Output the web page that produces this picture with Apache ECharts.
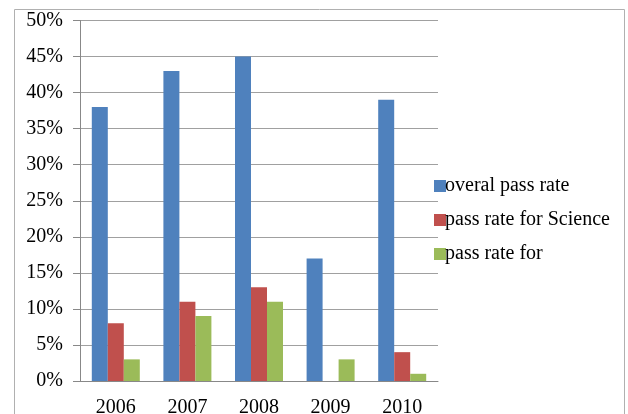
<!DOCTYPE html>
<html><head><meta charset="utf-8">
<script src="https://cdn.jsdelivr.net/npm/echarts@6/dist/echarts.min.js"></script>
<style>html,body{margin:0;padding:0;background:#fff}#c{width:628px;height:414px}</style>
</head><body><div id="c"></div>
<script>
const categories = ['2006','2007','2008','2009','2010'];
const overall = [38, 43, 45, 17, 39];
const science = [8, 11, 13, 0, 4];
const other = [3, 9, 11, 3, 1];
const seriesNames = ['overal pass rate','pass rate for Science','pass rate for'];
const font = 'Liberation Serif';
const chart = echarts.init(document.getElementById('c'));
chart.setOption({
  animation:false,
  graphic:[{type:'rect',shape:{x:14.5,y:9.5,width:610,height:420},style:{fill:'none',stroke:'#b0b0b0',lineWidth:1},silent:true}],
  grid:{left:80,right:190,top:20.5,bottom:33,containLabel:false,outerBoundsMode:'none'},
  legend:{orient:'vertical',left:429,top:171,itemWidth:12,itemHeight:12,itemGap:14,icon:'rect',
    textStyle:{fontFamily:font,fontSize:20,color:'#000',padding:[0,0,0,-6]}},
  xAxis:{type:'category',data:categories,
    axisLine:{lineStyle:{color:'#888'}},
    axisTick:{length:7,lineStyle:{color:'#888'}},
    axisLabel:{fontFamily:font,fontSize:20,color:'#000',margin:17}},
  yAxis:{type:'value',min:0,max:50,interval:5,
    axisLine:{show:true,lineStyle:{color:'#888'}},
    axisTick:{show:true,length:7,lineStyle:{color:'#888'}},
    splitLine:{lineStyle:{color:'#a0a0a0'}},
    axisLabel:{fontFamily:font,fontSize:20,color:'#000',margin:17,padding:[4,0,0,0],formatter:v=>v+'%'}},
  series:[
    {name:seriesNames[0],type:'bar',data:overall,barWidth:16,barGap:'0%',itemStyle:{color:'#4F81BD'}},
    {name:seriesNames[1],type:'bar',data:science,barWidth:16,barGap:'0%',itemStyle:{color:'#C0504D'}},
    {name:seriesNames[2],type:'bar',data:other,barWidth:16,barGap:'0%',itemStyle:{color:'#9BBB59'}}
  ]
});
</script></body></html>
